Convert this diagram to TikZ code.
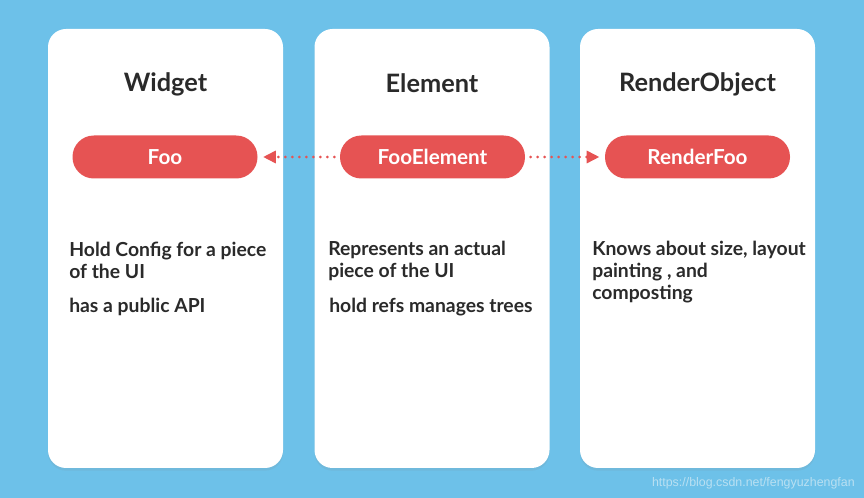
\documentclass[tikz,border=0pt]{standalone}
\usepackage{fontspec}
\setmainfont{Lato}
\newfontfamily\markfont{Liberation Sans}
\usetikzlibrary{arrows.meta,shadows}
\definecolor{skyback}{HTML}{6DC1E9}
\definecolor{pillred}{HTML}{E65353}
\definecolor{inkgray}{HTML}{2A2A2A}
\definecolor{markblue}{HTML}{B9E0F2}

\begin{document}
\begin{tikzpicture}[x=0.75pt,y=-0.75pt,>={Triangle[length=9.5pt,width=9pt]},
  card/.style={fill=white,rounded corners=13.5pt,minimum width=176.25pt,minimum height=329.25pt,inner sep=0pt,
    drop shadow={opacity=0.12,shadow xshift=0pt,shadow yshift=-2pt}},
  title/.style={anchor=base,text=inkgray,font=\fontsize{19}{22}\selectfont\bfseries},
  pill/.style={fill=pillred,rounded corners=16pt,minimum width=138.75pt,minimum height=32.25pt,inner sep=0pt,
    text=white,font=\fontsize{15.5}{18}\selectfont\bfseries},
  body/.style={anchor=base west,align=left,inner sep=0pt,text=inkgray,font=\fontsize{14.5}{16.5}\selectfont\bfseries},
  link/.style={->,pillred,line width=2.2pt,line cap=round,dash pattern=on 0pt off 5.25pt,shorten <=4pt,shorten >=4pt}]
\useasboundingbox[fill=skyback] (0,0) rectangle (864,498);
% three cards
\node[card] (wcard) at (165.5,248.5) {};
\node[card] (ecard) at (432,248.5) {};
\node[card] (rcard) at (697.5,248.5) {};
% titles
\node[title] (wtitle) at (165.5,92) {Widget};
\node[title] (etitle) at (432,93) {Element};
\node[title] (rtitle) at (697.5,92) {RenderObject};
% pills
\node[pill] (foo) at (165,157) {Foo};
\node[pill] (fooelem) at (432.5,157) {FooElement};
\node[pill] (renderfoo) at (697.5,157) {RenderFoo};
\draw[link] (fooelem) -- (foo);
\draw[link] (fooelem) -- (renderfoo);
% descriptions (base = last line)
\node[body] (wtxt) at (69,279) {Hold Config for a piece\\of the UI};
\node[body] (wapi) at (69,313) {has a public API};
\node[body] (etxt) at (328,278) {Represents an actual\\piece of the UI};
\node[body] (erefs) at (329,313) {hold refs manages trees};
\node[body] (rtxt) at (592,300) {Knows about size, layout\\painting , and\\composting};
% watermark
\node[anchor=base east,inner sep=0pt,text=markblue,font=\markfont\fontsize{9.3}{10}\selectfont] (mark) at (855,487) {https://blog.csdn.net/fengyuzhengfan};
\end{tikzpicture}
\end{document}
